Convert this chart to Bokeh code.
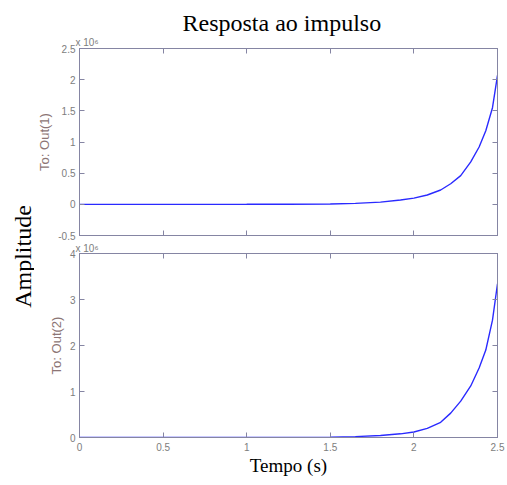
import math
from bokeh.plotting import figure
from bokeh.models import Label, LinearAxis, FixedTicker, Range1d, Title
from bokeh.layouts import row, column
from bokeh.embed import file_html
from bokeh.resources import INLINE

# ---- data (values in units of x 10^6) ----
t = [0.0, 0.5, 1.0, 1.25, 1.5, 1.65, 1.8, 1.92, 2.0, 2.08, 2.16, 2.22, 2.28,
     2.34, 2.39, 2.43, 2.47, 2.5]
out1 = [0.0, 0.0001, 0.001, 0.002, 0.006, 0.015, 0.035, 0.07, 0.10, 0.15, 0.23, 0.33, 0.46,
        0.68, 0.92, 1.18, 1.55, 2.07]
out2 = [0.0, 0.0002, 0.0015, 0.003, 0.008, 0.02, 0.045, 0.08, 0.12, 0.2, 0.33, 0.53, 0.79,
        1.12, 1.51, 1.9, 2.55, 3.34]

x_ticks = [0, 0.5, 1, 1.5, 2, 2.5]
x_labels = ["0", "0.5", "1", "1.5", "2", "2.5"]
y1_ticks = [-0.5, 0, 0.5, 1, 1.5, 2, 2.5]
y1_labels = ["-0.5", "0", "0.5", "1", "1.5", "2", "2.5"]
y2_ticks = [0, 1, 2, 3, 4]
y2_labels = ["0", "1", "2", "3", "4"]

title_text = "Resposta ao impulso"
ylabel_text = "Amplitude"
xlabel_text = "Tempo (s)"
ch_labels = ["To: Out(1)", "To: Out(2)"]
scale_text = "x 10\u2076"

BOX = "#8585a3"
TICKC = "#7d7d7d"
LINE = "#2a2aff"
SANS = "Liberation Sans"
SERIF = "Liberation Serif"

LEFT = 45
RIGHT = 8
FW = 418
W = LEFT + FW + RIGHT
WA = 34
H = 478


def style_axis(ax, ticks, labels, show_labels):
    ax.ticker = FixedTicker(ticks=ticks)
    ax.major_label_overrides = {float(k): v for k, v in zip(ticks, labels)}
    ax.axis_line_color = BOX
    ax.major_tick_line_color = BOX
    ax.major_tick_in = 5
    ax.major_tick_out = 0
    ax.minor_tick_line_color = None
    ax.major_label_text_font = SANS
    if show_labels:
        ax.major_label_text_color = TICKC
        ax.major_label_text_font_size = "10px"
        ax.major_label_standoff = 4
    else:
        ax.major_label_text_color = None
        ax.major_label_text_font_size = "0px"
        ax.major_label_standoff = 0


def panel(h, yr, yt, yl, ch, top, bottom, show_x, sub_stand):
    p = figure(width=W, height=h, x_range=Range1d(0, 2.5), y_range=yr,
               output_backend="svg", toolbar_location=None,
               x_axis_location=None, y_axis_location=None,
               min_border_left=LEFT, min_border_right=RIGHT,
               min_border_top=top, min_border_bottom=bottom)
    p.grid.visible = False
    p.outline_line_color = BOX
    la = LinearAxis()
    style_axis(la, yt, yl, True)
    la.axis_label = ch
    la.axis_label_text_font = SANS
    la.axis_label_text_font_size = "13px"
    la.axis_label_text_font_style = "normal"
    la.axis_label_text_color = "#8c7575"
    la.axis_label_standoff = 3
    p.add_layout(la, "left")
    ba = LinearAxis()
    style_axis(ba, x_ticks, x_labels, show_x)
    ba.major_label_standoff = 5 if show_x else 0
    p.add_layout(ba, "below")
    ra = LinearAxis()
    style_axis(ra, yt, yl, False)
    p.add_layout(ra, "right")
    ta = LinearAxis()
    style_axis(ta, x_ticks, x_labels, False)
    p.add_layout(ta, "above")
    sub = Title(text=scale_text, text_font=SANS, text_font_size="10px",
                text_font_style="normal", text_color=TICKC, align="left",
                standoff=sub_stand, offset=-4)
    p.add_layout(sub, "above")
    return p, ba


# upper panel (with main title)
p1, b1 = panel(241, Range1d(-0.5, 2.5), y1_ticks, y1_labels, ch_labels[0], 48, 6, False, 1)
p1.title.text = title_text
p1.title.text_font = SERIF
p1.title.text_font_size = "24px"
p1.title.text_font_style = "normal"
p1.title.text_color = "black"
p1.title.align = "left"
p1.title.offset = 103
p1.title.standoff = -3
p1.line(t, out1, line_color=LINE, line_width=1.4)

# lower panel
p2, b2 = panel(237, Range1d(0, 4), y2_ticks, y2_labels, ch_labels[1], 12, 40, True, -1)
b2.axis_label = xlabel_text
b2.axis_label_text_font = SERIF
b2.axis_label_text_font_size = "19px"
b2.axis_label_text_font_style = "normal"
b2.axis_label_text_color = "black"
b2.axis_label_standoff = 1
p2.line(t, out2, line_color=LINE, line_width=1.4)

# left label strip
pa = figure(width=WA, height=H, x_range=Range1d(0, 1), y_range=Range1d(0, 1),
            output_backend="svg", toolbar_location=None,
            min_border=0, x_axis_location=None, y_axis_location=None)
pa.grid.visible = False
pa.outline_line_color = None
pa.add_layout(Label(x=0.5, y=0.5, text=ylabel_text, angle=math.pi / 2,
                    text_font=SERIF, text_font_size="24px", text_color="black",
                    text_align="center", text_baseline="middle", x_offset=5, y_offset=-17))

layout = row(pa, column(p1, p2, spacing=0), spacing=0,
             width=WA + W, height=H, sizing_mode="fixed")

open("out.html", "w").write(file_html(layout, INLINE))
